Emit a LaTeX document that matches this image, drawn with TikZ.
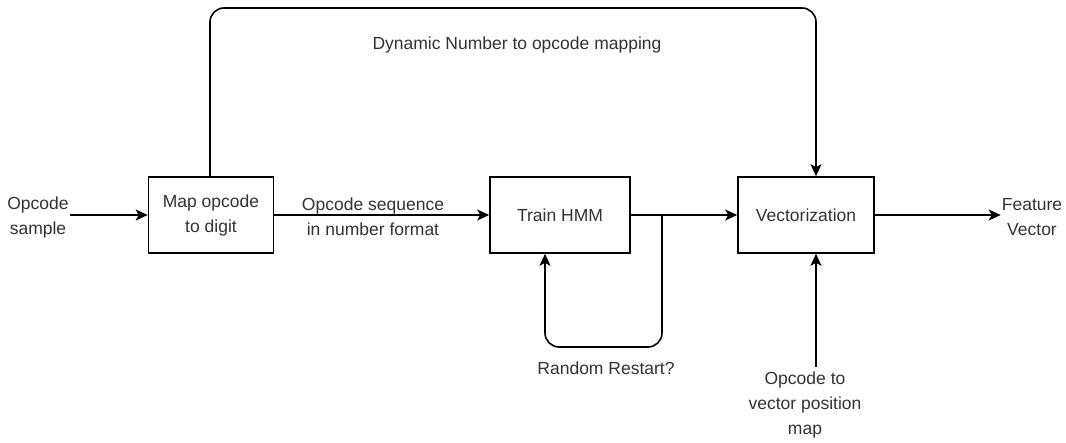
\documentclass[tikz,border=0pt]{standalone}
\usepackage{fontspec}
\setmainfont{Liberation Sans}
\usetikzlibrary{arrows.meta}
\begin{document}
\begin{tikzpicture}[x=1pt,y=-1pt,
  box/.style={draw, line width=1.6pt, minimum width=125pt, minimum height=76pt, inner sep=0pt},
  lbl/.style={align=center, inner sep=1pt, font=\fontsize{17.5}{25}\selectfont, text=black!80},
  conn/.style={line width=1.6pt, -{Stealth[length=12pt,width=11pt,inset=3pt]}},
  every node/.append style={font=\fontsize{17.5}{25}\selectfont, text=black!80}]
\useasboundingbox (0,0) rectangle (1066,443);
\node[box] (map) at (211,215) {\parbox{110pt}{\centering Map opcode\\to digit}};
\node[box, minimum width=140pt] (hmm) at (560,215) {Train HMM};
\node[box, minimum width=136pt] (vec) at (806,215) {Vectorization};
\node[lbl] (in) at (38,217) {Opcode\\sample};
\node[lbl] (seq) at (373,217) {Opcode sequence\\in number format};
\node[lbl] (feat) at (1032,217) {Feature\\Vector};
\node[lbl] (dyn) at (517,45) {Dynamic Number to opcode mapping};
\node[lbl] (rr) at (606,368) {Random Restart?};
\node[lbl] (pos) at (805,405) {Opcode to\\vector position\\map};
\coordinate (j) at (662,216);
\coordinate (tl) at (210,8);
\coordinate (tr) at (816,8);
\draw[conn] (in.east |- map) -- (map.west);
\draw[conn] (map.east) -- (hmm.west);
\draw[conn] (hmm.east) -- (vec.west);
\draw[conn] (vec.east) -- (feat.west |- vec);
\draw[conn, rounded corners=14pt] (map.north -| tl) -- (tl) -- (tr) -- (tr |- vec.north);
\draw[conn, rounded corners=14pt] (j) -- (662,347) -- (545,347) -- (545,253.8);
\draw[conn] (816,367) -- (816,253.8);
\end{tikzpicture}
\end{document}
